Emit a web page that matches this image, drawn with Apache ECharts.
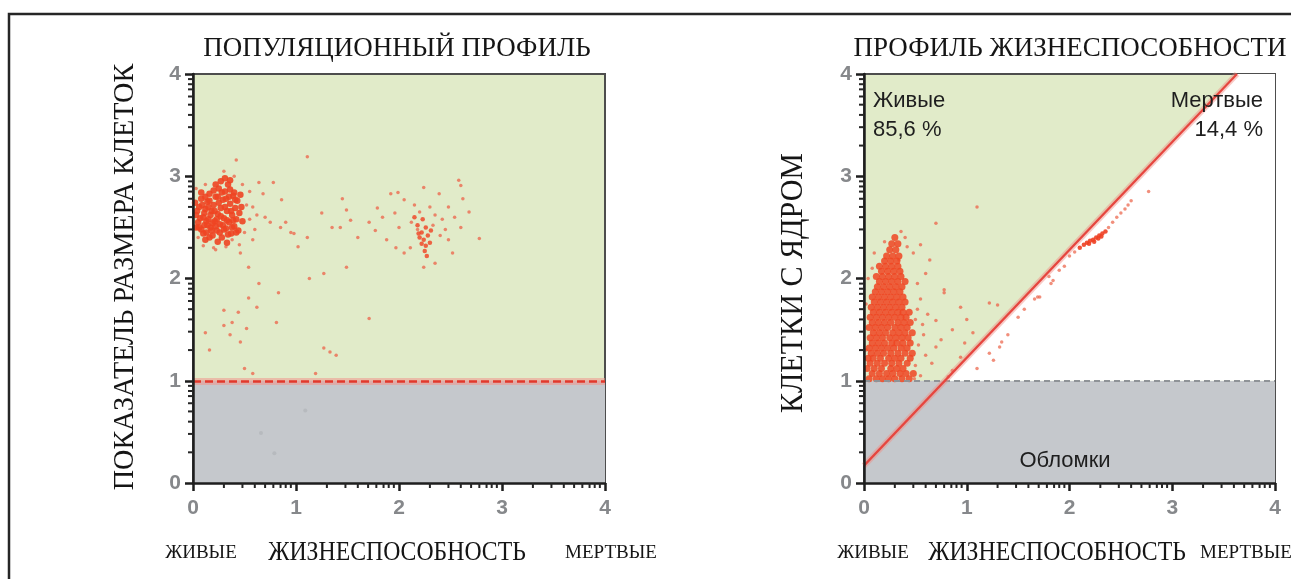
<!DOCTYPE html>
<html><head><meta charset="utf-8">
<script src="https://cdn.jsdelivr.net/npm/echarts@6/dist/echarts.min.js"></script>
<style>html,body{margin:0;padding:0;background:#fff}#c{width:1291px;height:579px}</style>
</head><body><div id="c"></div>
<script>
// ---------- data ----------
const axisTicks = [0, 1, 2, 3, 4];
const minorTicks = [0.30,0.48,0.60,0.70,0.78,0.85,0.90,0.95,1.30,1.48,1.60,1.70,1.78,1.85,1.90,1.95,2.30,2.48,2.60,2.70,2.78,2.85,2.90,2.95,3.30,3.48,3.60,3.70,3.78,3.85,3.90,3.95];

// left panel: population profile
const leftLiveCore = [[0.03,2.62],[0.05,2.55],[0.06,2.70],[0.08,2.48],[0.08,2.78],[0.10,2.60],[0.11,2.52],[0.12,2.68],[0.13,2.45],[0.14,2.75],[0.15,2.58],[0.16,2.83],[0.17,2.50],[0.18,2.66],[0.19,2.42],[0.20,2.72],[0.21,2.56],[0.22,2.80],[0.23,2.47],[0.24,2.63],[0.25,2.88],[0.26,2.53],[0.27,2.69],[0.28,2.40],[0.29,2.77],[0.30,2.59],[0.31,2.85],[0.32,2.49],[0.33,2.66],[0.34,2.92],[0.35,2.55],[0.36,2.73],[0.37,2.44],[0.38,2.62],[0.39,2.81],[0.40,2.51],[0.41,2.69],[0.42,2.58],[0.43,2.76],[0.44,2.47],[0.45,2.64],[0.04,2.66],[0.07,2.59],[0.09,2.72],[0.11,2.64],[0.13,2.56],[0.15,2.70],[0.17,2.62],[0.19,2.54],[0.21,2.66],[0.23,2.58],[0.25,2.74],[0.27,2.61],[0.29,2.52],[0.31,2.70],[0.33,2.57],[0.35,2.80],[0.37,2.66],[0.39,2.57],[0.41,2.77],[0.06,2.50],[0.10,2.44],[0.14,2.52],[0.18,2.47],[0.22,2.51],[0.26,2.45],[0.30,2.48],[0.34,2.43],[0.38,2.50],[0.42,2.45],[0.08,2.84],[0.12,2.80],[0.16,2.76],[0.20,2.86],[0.24,2.80],[0.28,2.84],[0.32,2.78],[0.36,2.87],[0.40,2.84],[0.02,2.74],[0.03,2.50],[0.47,2.70],[0.48,2.56],[0.46,2.82],[0.27,2.95],[0.31,2.98],[0.36,2.96],[0.22,2.92],[0.16,2.40],[0.24,2.36],[0.33,2.35],[0.12,2.38]];
const leftDeadCore = [[2.20,2.40],[2.24,2.38],[2.26,2.32],[2.25,2.27],[2.22,2.45],[2.28,2.42],[2.18,2.52],[2.26,2.50],[2.30,2.35],[2.22,2.34],[2.27,2.22],[2.15,2.60],[2.23,2.58],[2.31,2.47],[2.19,2.44]];
const leftScatter = [[0.42,3.16],[1.11,3.19],[0.64,2.94],[0.78,2.94],[0.68,2.83],[0.86,2.77],[0.70,2.60],[0.75,2.55],[0.85,2.50],[0.95,2.45],[0.90,2.55],[0.58,2.70],[0.55,2.58],[0.60,2.48],[1.25,2.64],[1.49,2.67],[1.53,2.57],[1.35,2.50],[1.43,2.50],[1.11,2.40],[1.02,2.31],[0.98,2.44],[1.49,2.11],[1.27,2.05],[1.13,2.00],[0.54,2.11],[0.64,1.95],[0.83,1.86],[0.22,2.28],[0.32,2.31],[0.46,2.25],[0.54,1.81],[0.62,1.72],[0.30,1.69],[0.44,1.67],[0.38,1.57],[0.12,1.47],[0.16,1.30],[0.30,1.54],[0.36,1.45],[0.46,1.38],[0.52,1.51],[0.81,1.57],[1.71,1.61],[1.27,1.32],[1.33,1.28],[1.39,1.25],[0.50,1.12],[0.58,1.07],[1.19,1.07],[1.79,2.69],[1.92,2.83],[1.99,2.84],[2.24,2.89],[2.58,2.96],[2.60,2.91],[1.71,2.55],[1.77,2.47],[1.88,2.38],[1.97,2.30],[2.05,2.25],[2.11,2.30],[1.96,2.64],[2.05,2.77],[2.39,2.83],[2.48,2.70],[2.54,2.60],[2.60,2.50],[2.78,2.39],[2.52,2.25],[2.48,2.38],[2.24,2.11],[2.35,2.15],[2.15,2.72],[2.20,2.65],[2.30,2.70],[2.35,2.62],[2.42,2.58],[2.45,2.48],[2.12,2.55],[2.18,2.48],[2.40,2.42],[2.33,2.52],[2.68,2.65],[2.62,2.78],[1.84,2.60],[2.00,2.50],[1.60,2.40],[1.45,2.78],[0.50,2.45],[0.52,2.72],[0.55,2.85],[0.48,2.92],[0.40,3.00],[0.30,3.05],[0.05,2.40],[0.10,2.32],[0.20,2.30],[0.38,2.38],[0.45,2.33],[0.03,2.88],[0.12,2.92],[0.62,2.62],[0.58,2.38]];
const leftDebris = [[1.09,0.71],[0.66,0.49],[0.79,0.29]];

// right panel: viability profile
const rightLiveRows = [
  [1.02,[0.05,0.12,0.18,0.24,0.30,0.37,0.44]],
  [1.07,[0.08,0.15,0.22,0.28,0.35,0.41,0.48]],
  [1.12,[0.03,0.10,0.17,0.26,0.32,0.38]],
  [1.17,[0.06,0.13,0.20,0.27,0.34,0.42]],
  [1.22,[0.04,0.09,0.16,0.24,0.30,0.36,0.45]],
  [1.27,[0.07,0.13,0.19,0.26,0.33,0.40,0.47]],
  [1.32,[0.05,0.11,0.17,0.23,0.29,0.36,0.42]],
  [1.37,[0.08,0.14,0.20,0.27,0.32,0.38,0.45]],
  [1.42,[0.06,0.12,0.18,0.25,0.31,0.37,0.43]],
  [1.47,[0.09,0.15,0.21,0.28,0.34,0.40,0.47]],
  [1.52,[0.05,0.11,0.17,0.23,0.30,0.36,0.42]],
  [1.57,[0.08,0.14,0.20,0.26,0.33,0.39,0.45]],
  [1.62,[0.06,0.12,0.18,0.24,0.30,0.36,0.41]],
  [1.67,[0.09,0.15,0.21,0.27,0.33,0.38,0.44]],
  [1.72,[0.07,0.13,0.19,0.25,0.31,0.37]],
  [1.77,[0.10,0.16,0.22,0.28,0.34,0.40]],
  [1.82,[0.08,0.14,0.20,0.26,0.32,0.38]],
  [1.87,[0.11,0.17,0.23,0.29,0.35]],
  [1.92,[0.13,0.19,0.25,0.31,0.37]],
  [1.97,[0.15,0.21,0.27,0.33,0.40]],
  [2.02,[0.12,0.18,0.24,0.30,0.36]],
  [2.07,[0.17,0.23,0.29,0.35]],
  [2.12,[0.15,0.21,0.27,0.33]],
  [2.17,[0.20,0.26,0.32]],
  [2.22,[0.22,0.28,0.34]],
  [2.28,[0.25,0.31]],
  [2.34,[0.27,0.33]],
  [2.40,[0.30]]
];
const rightLiveScatter = [[0.78,1.89],[0.42,2.31],[0.55,2.33],[0.34,2.18],[0.64,2.18],[0.70,2.54],[1.10,2.70],[0.78,1.86],[0.94,1.72],[1.22,1.76],[1.30,1.74],[0.70,1.59],[0.86,1.50],[1.06,1.47],[0.98,1.37],[0.70,1.33],[0.66,1.17],[0.94,1.23],[0.86,1.10],[0.82,1.04],[0.55,1.05],[0.60,1.25],[0.58,1.45],[0.62,1.65],[0.55,1.80],[0.52,1.95],[0.60,2.05],[0.48,2.25],[0.75,1.40],[1.00,1.60],[0.57,1.55],[0.53,1.35],[0.50,1.15],[0.02,1.30],[0.02,1.75],[0.04,2.00],[0.08,2.10],[0.10,2.25],[0.40,2.40],[0.36,2.46],[0.20,2.36],[0.50,1.60],[0.52,1.70],[0.49,1.02]];
const rightDeadCore = [[2.10,2.30],[2.14,2.33],[2.17,2.35],[2.20,2.37],[2.23,2.38],[2.26,2.40],[2.29,2.42],[2.32,2.44],[2.35,2.46],[2.19,2.34],[2.24,2.36],[2.28,2.39],[2.31,2.41]];
const rightDeadScatter = [[2.38,2.50],[2.42,2.55],[2.46,2.60],[2.50,2.64],[2.54,2.68],[2.57,2.72],[2.60,2.76],[2.05,2.26],[2.00,2.22],[1.95,2.12],[1.90,2.08],[1.84,1.98],[1.80,2.02],[1.71,1.82],[1.66,1.80],[1.56,1.70],[1.50,1.62],[1.40,1.45],[1.34,1.38],[1.32,1.33],[1.22,1.27],[1.26,1.20],[1.10,1.12],[2.77,2.85],[1.82,1.95],[1.69,1.82]];

// region geometry (data units)
const rightGateLine = [[0, 0.17], [3.63, 4]];
const rightDeadRegion = [[0.79, 1], [4, 1], [4, 4], [3.63, 4]];
const debrisLimit = 1;

// ---------- chart ----------
const rightLive = [];
rightLiveRows.forEach(r => r[1].forEach(x => rightLive.push([x, r[0]])));

const chart = echarts.init(document.getElementById('c'), null, {renderer: 'canvas'});
const tickFont = {fontSize: 21, fontWeight: 'bold', color: '#86888b', fontFamily: 'Liberation Sans'};
function axisX(g) {
  return {gridIndex: g, type: 'value', min: 0, max: 4, interval: 1, position: 'bottom', z: 20,
    axisLine: {show: true, onZero: false, lineStyle: {color: '#1e1e1e', width: 2.5}},
    axisTick: {show: true, inside: false, length: 8, lineStyle: {color: '#1e1e1e', width: 2.5}},
    axisLabel: Object.assign({margin: 15, formatter: v => String(v)}, tickFont),
    splitLine: {show: false}};
}
function axisY(g) {
  return {gridIndex: g, type: 'value', min: 0, max: 4, interval: 1, position: 'left', z: 20,
    axisLine: {show: true, onZero: false, lineStyle: {color: '#1e1e1e', width: 2.5}},
    axisTick: {show: true, inside: false, length: 8, lineStyle: {color: '#1e1e1e', width: 2.5}},
    axisLabel: Object.assign({margin: 12}, tickFont),
    splitLine: {show: false}};
}
function sc(data, xi, size, color, opacity, z) {
  return {type: 'scatter', xAxisIndex: xi, yAxisIndex: xi, data: data, symbolSize: size, z: z,
    itemStyle: {color: color, opacity: opacity}, silent: true};
}
const serif = '"Liberation Serif", "DejaVu Serif", serif';
function txt(text, x, y, size, opts) {
  opts = opts || {};
  return {type: 'text', x: x, y: y, rotation: opts.rot || 0, scaleX: opts.sx || 1, z: 100,
    style: {text: text, font: (opts.weight || 'normal') + ' ' + size + 'px ' + (opts.family || serif),
      fill: opts.fill || '#151515', align: opts.align || 'center', verticalAlign: 'middle',
      textAlign: opts.align || 'center', textVerticalAlign: 'middle'}};
}
const sans = '"Liberation Sans", Arial, sans-serif';

const graphics = [
  {type: 'rect', z: 90, shape: {x: 9, y: 14, width: 1320, height: 620}, style: {fill: 'none', stroke: '#262626', lineWidth: 2.5}},
  txt('ПОПУЛЯЦИОННЫЙ ПРОФИЛЬ', 397, 49, 27),
  txt('ПРОФИЛЬ ЖИЗНЕСПОСОБНОСТИ', 1070, 49, 27),
  txt('ПОКАЗАТЕЛЬ РАЗМЕРА КЛЕТОК', 125, 277, 30, {rot: Math.PI / 2, sx: 0.94}),
  txt('КЛЕТКИ С ЯДРОМ', 794, 283, 31, {rot: Math.PI / 2, sx: 0.97}),
  txt('ЖИВЫЕ', 201, 553, 19),
  txt('ЖИЗНЕСПОСОБНОСТЬ', 397, 553, 27, {sx: 0.88}),
  txt('МЕРТВЫЕ', 611, 553, 19),
  txt('ЖИВЫЕ', 873, 553, 19),
  txt('ЖИЗНЕСПОСОБНОСТЬ', 1057, 553, 27, {sx: 0.88}),
  txt('МЕРТВЫЕ', 1246, 553, 19),
  txt('Живые', 873, 101, 22, {family: sans, align: 'left', fill: '#1e1e1e'}),
  txt('85,6 %', 873, 130, 22, {family: sans, align: 'left', fill: '#1e1e1e'}),
  txt('Мертвые', 1263, 101, 22, {family: sans, align: 'right', fill: '#1e1e1e'}),
  txt('14,4 %', 1263, 130, 22, {family: sans, align: 'right', fill: '#1e1e1e'}),
  txt('Обломки', 1065, 461, 22, {family: sans, fill: '#1e1e1e'})
];

const option = {
  animation: false,
  backgroundColor: '#ffffff',
  grid: [
    {left: 193, top: 74, width: 412, height: 409, show: true, backgroundColor: '#e1ebc9', borderColor: '#4d4d4d', borderWidth: 2},
    {left: 864, top: 74, width: 411, height: 409, show: true, backgroundColor: '#e1ebc9', borderColor: '#4d4d4d', borderWidth: 2}
  ],
  xAxis: [axisX(0), axisX(1)],
  yAxis: [axisY(0), axisY(1)],
  series: [
    // left panel regions
    {type: 'line', xAxisIndex: 0, yAxisIndex: 0, data: [], silent: true,
      markArea: {silent: true, itemStyle: {color: '#c5c8cc'}, data: [[{yAxis: 0}, {yAxis: debrisLimit}]]},
      markLine: {silent: true, symbol: 'none', label: {show: false},
        lineStyle: {color: 'rgba(240,150,140,0.55)', width: 7, type: 'solid'}, data: [{yAxis: debrisLimit}]}},
    {type: 'line', xAxisIndex: 0, yAxisIndex: 0, data: [], silent: true,
      markLine: {silent: true, symbol: 'none', label: {show: false},
        lineStyle: {color: '#e2382b', width: 2.5, type: [8, 4]}, data: [{yAxis: debrisLimit}]}},
    sc(leftDebris, 0, 4, '#b3b6ba', 0.8, 3),
    sc(leftScatter, 0, 3.5, '#ec6a50', 0.8, 3),
    sc(leftLiveCore, 0, 6.5, '#ee4522', 0.9, 4),
    sc(leftDeadCore, 0, 4.5, '#ee4a2a', 0.85, 4),
    // right panel regions
    {type: 'custom', xAxisIndex: 1, yAxisIndex: 1, data: [[0, 0]], silent: true, z: 1,
      renderItem: function (params, api) {
        return {type: 'polygon', shape: {points: rightDeadRegion.map(p => api.coord(p))}, style: {fill: '#ffffff'}};
      },
      markArea: {silent: true, itemStyle: {color: '#c5c8cc'}, data: [[{yAxis: 0}, {yAxis: debrisLimit}]]},
      markLine: {silent: true, symbol: 'none', label: {show: false},
        lineStyle: {color: '#8f9397', width: 2, type: [6, 4]}, data: [{yAxis: debrisLimit}]}},
    sc(rightLiveScatter, 1, 3.5, '#ec6a50', 0.8, 3),
    sc(rightDeadScatter, 1, 3.5, '#ec6a50', 0.75, 3),
    sc(rightLive, 1, 7, '#ee4522', 0.85, 4),
    sc(rightDeadCore, 1, 4.5, '#ee3f22', 0.9, 4),
    {type: 'line', xAxisIndex: 1, yAxisIndex: 1, data: rightGateLine, symbol: 'none', silent: true, z: 5,
      lineStyle: {color: 'rgba(240,140,130,0.45)', width: 6}},
    {type: 'line', xAxisIndex: 1, yAxisIndex: 1, data: rightGateLine, symbol: 'none', silent: true, z: 6,
      lineStyle: {color: '#e6463f', width: 2.2}}
  ],
  graphic: graphics
};
chart.setOption(option);

// minor (logarithmic) tick marks: positions taken from the axes' own scales, pointing outward
const tickEls = [];
[0, 1].forEach(function (gi) {
  minorTicks.forEach(function (v) {
    const px = chart.convertToPixel({gridIndex: gi}, [v, 0]);
    const py = chart.convertToPixel({gridIndex: gi}, [0, v]);
    tickEls.push({type: 'line', z: 95, silent: true,
      shape: {x1: px[0], y1: px[1], x2: px[0], y2: px[1] + 5},
      style: {stroke: '#262626', lineWidth: 2}});
    tickEls.push({type: 'line', z: 95, silent: true,
      shape: {x1: py[0], y1: py[1], x2: py[0] - 5, y2: py[1]},
      style: {stroke: '#262626', lineWidth: 2}});
  });
});
chart.setOption({graphic: graphics.concat(tickEls)});
</script>
</body></html>
